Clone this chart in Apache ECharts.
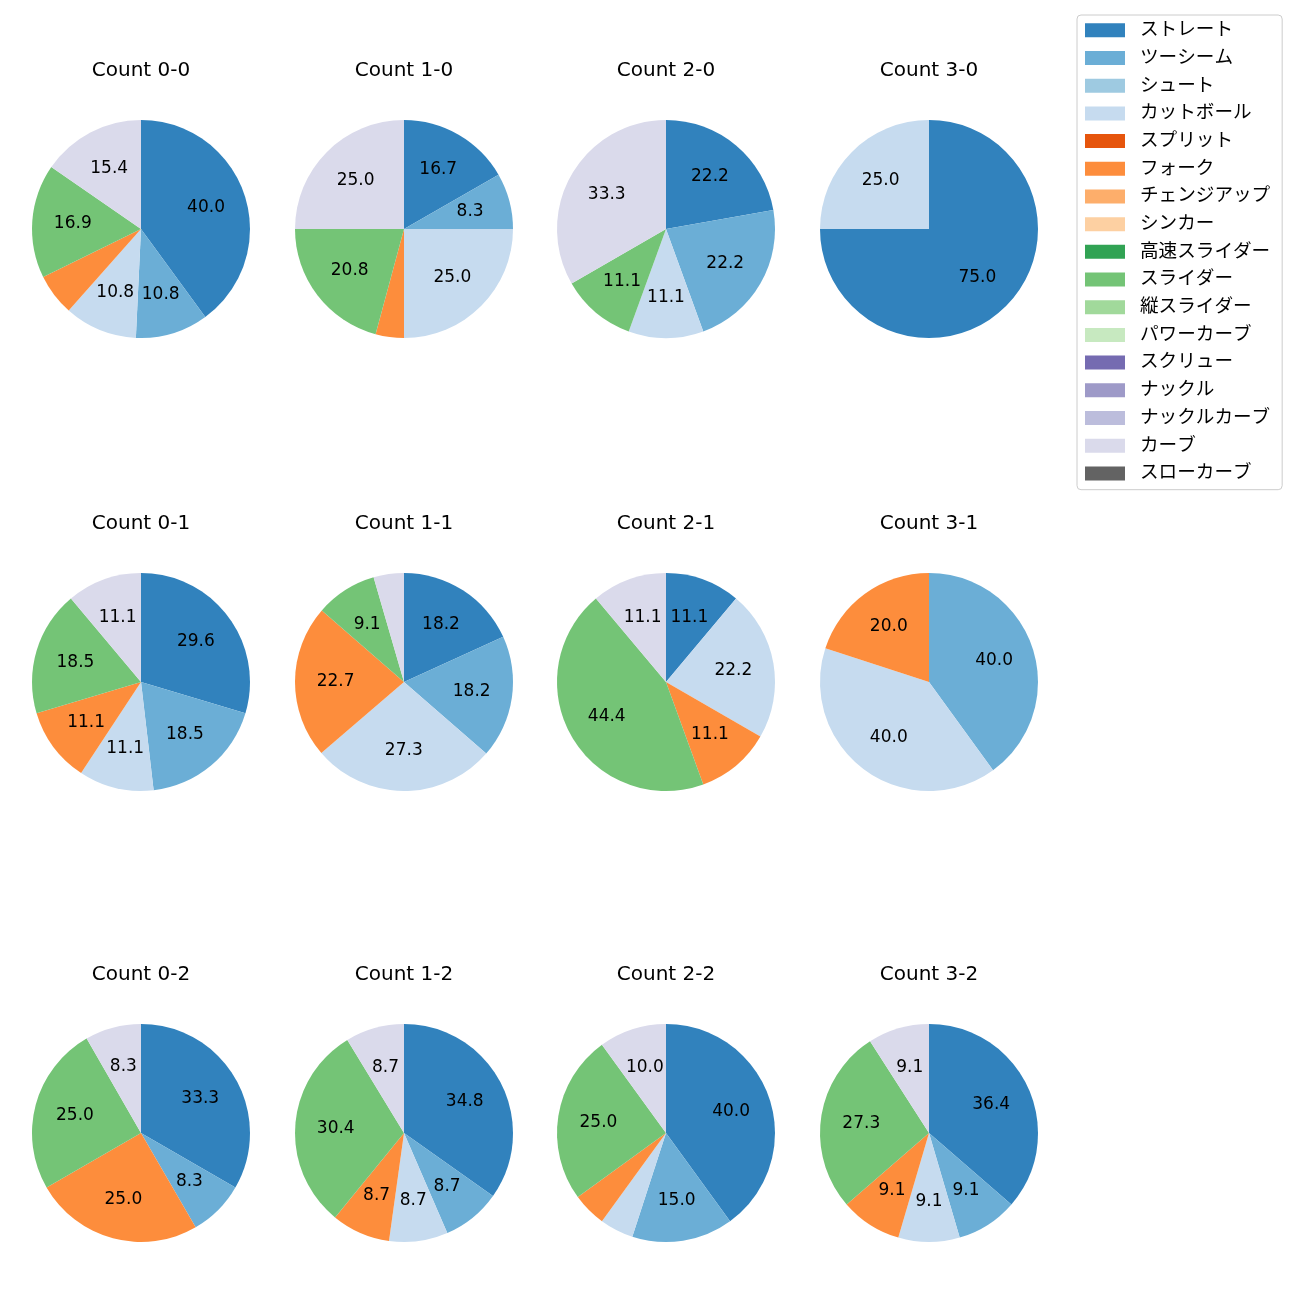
<!DOCTYPE html>
<html>
<head>
<meta charset="utf-8">
<script src="https://cdn.jsdelivr.net/npm/echarts@6/dist/echarts.min.js"></script>
<style>html,body{margin:0;padding:0;background:#fff;}#c{width:1300px;height:1300px;}</style>
</head>
<body>
<div id="c"></div>
<script>
// Pitch type categories (legend order)
const categories = ['ストレート','ツーシーム','シュート','カットボール','スプリット','フォーク','チェンジアップ','シンカー','高速スライダー','スライダー','縦スライダー','パワーカーブ','スクリュー','ナックル','ナックルカーブ','カーブ','スローカーブ'];
const colors = ['#3182bd','#6baed6','#9ecae1','#c6dbef','#e6550d','#fd8d3c','#fdae6b','#fdd0a2','#31a354','#74c476','#a1d99b','#c7e9c0','#756bb1','#9e9ac8','#bcbddc','#dadaeb','#636363'];

// Percentages per count, in category order
const count00 = [40.0,10.8,0,10.8,0,6.2,0,0,0,16.9,0,0,0,0,0,15.4,0];
const count10 = [16.7,8.3,0,25.0,0,4.2,0,0,0,20.8,0,0,0,0,0,25.0,0];
const count20 = [22.2,22.2,0,11.1,0,0,0,0,0,11.1,0,0,0,0,0,33.3,0];
const count30 = [75.0,0,0,25.0,0,0,0,0,0,0,0,0,0,0,0,0,0];
const count01 = [29.6,18.5,0,11.1,0,11.1,0,0,0,18.5,0,0,0,0,0,11.1,0];
const count11 = [18.2,18.2,0,27.3,0,22.7,0,0,0,9.1,0,0,0,0,0,4.5,0];
const count21 = [11.1,0,0,22.2,0,11.1,0,0,0,44.4,0,0,0,0,0,11.1,0];
const count31 = [0,40.0,0,40.0,0,20.0,0,0,0,0,0,0,0,0,0,0,0];
const count02 = [33.3,8.3,0,0,0,25.0,0,0,0,25.0,0,0,0,0,0,8.3,0];
const count12 = [34.8,8.7,0,8.7,0,8.7,0,0,0,30.4,0,0,0,0,0,8.7,0];
const count22 = [40.0,15.0,0,5.0,0,5.0,0,0,0,25.0,0,0,0,0,0,10.0,0];
const count32 = [36.4,9.1,0,9.1,0,9.1,0,0,0,27.3,0,0,0,0,0,9.1,0];

const titles = ['Count 0-0','Count 1-0','Count 2-0','Count 3-0','Count 0-1','Count 1-1','Count 2-1','Count 3-1','Count 0-2','Count 1-2','Count 2-2','Count 3-2'];
const counts = [count00,count10,count20,count30,count01,count11,count21,count31,count02,count12,count22,count32];

const colX = [141, 404, 666, 929];
const rowY = [229, 682, 1133];
const R = 109;
const FONT = 'DejaVu Sans, "Noto Sans CJK JP", sans-serif';

const series = [];
const titleOpts = [];
counts.forEach((vals, i) => {
  const cx = colX[i % 4], cy = rowY[Math.floor(i / 4)];
  const data = categories.map((n, k) => ({ name: n, value: vals[k], itemStyle: { color: colors[k] } }));
  series.push({
    type: 'pie', center: [cx, cy], radius: [0, R], startAngle: 90, clockwise: true,
    animation: false, silent: true, label: { show: false }, labelLine: { show: false },
    itemStyle: { borderWidth: 0 }, data: data
  });
  series.push({
    type: 'pie', center: [cx, cy], radius: [R * 0.2, R], startAngle: 90, clockwise: true,
    animation: false, silent: true, labelLine: { show: false },
    itemStyle: { color: 'rgba(0,0,0,0)', borderWidth: 0 },
    label: {
      show: true, position: 'inside', color: '#000', fontSize: 17, fontFamily: FONT,
      formatter: p => (p.value >= 7 ? p.value.toFixed(1) : '')
    },
    data: categories.map((n, k) => ({ name: n, value: vals[k] }))
  });
  titleOpts.push({
    text: titles[i], left: cx, top: cy - 168, textAlign: 'center', padding: 0,
    textStyle: { fontSize: 20, fontWeight: 'normal', color: '#000', fontFamily: FONT }
  });
});

const chart = echarts.init(document.getElementById('c'), null, { renderer: 'canvas' });
chart.setOption({
  animation: false,
  title: titleOpts,
  legend: {
    orient: 'vertical', left: 1077, top: 15, icon: 'rect', itemWidth: 40, itemHeight: 14, itemGap: 9.1,
    padding: [6, 12, 7, 8], borderColor: '#cccccc', borderWidth: 1, borderRadius: 4,
    selectedMode: false,
    textStyle: { fontSize: 18.6, color: '#000', fontFamily: FONT, padding: [0, 0, 0, 10] },
    data: categories.map((n, k) => ({ name: n, itemStyle: { color: colors[k] } }))
  },
  series: series
});
</script>
</body>
</html>
